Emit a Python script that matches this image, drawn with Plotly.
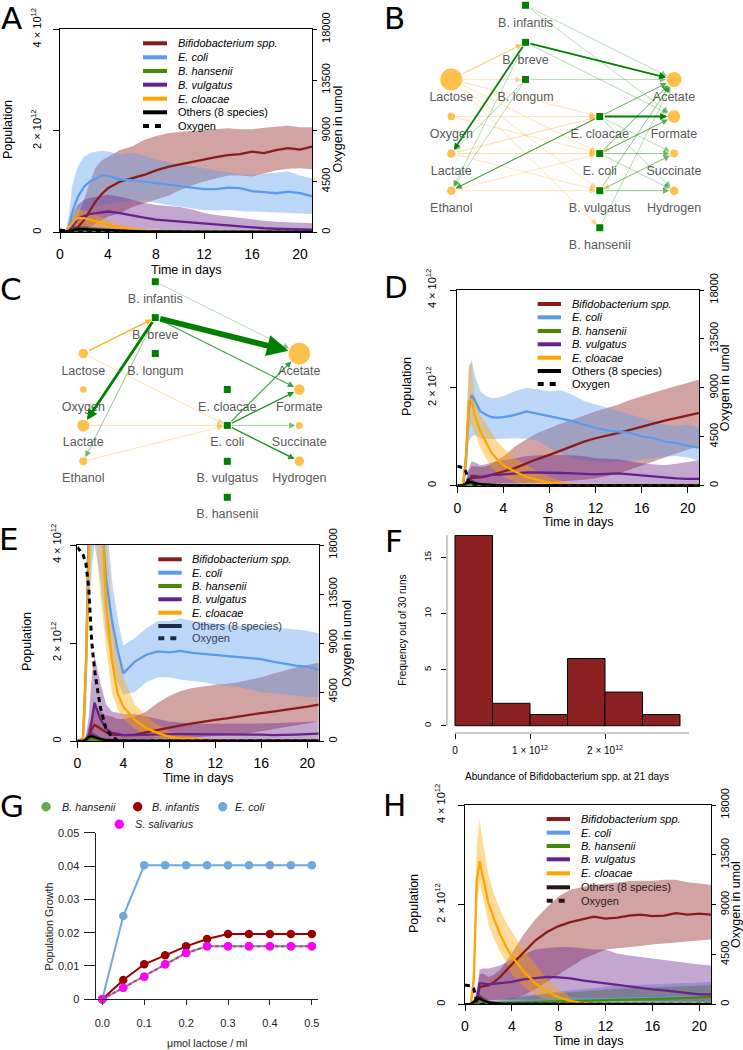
import plotly.graph_objects as go

W, H = 743, 1050
UNIT = 1e12          # population values below are given in units of 10^12
FONT = "Liberation Sans, Arial, sans-serif"

# ---------------------------------------------------------------- time axis
T = [0, 0.5, 0.75, 1, 1.25, 1.5, 2, 2.5, 3, 3.5, 4, 5, 6, 7, 8, 9, 10, 11, 12, 13, 14, 15, 16, 17, 18, 19, 20, 21]

SPECIES = ["Bifidobacterium spp.", "E. coli", "B. hansenii", "B. vulgatus", "E. cloacae", "Others (8 species)"]

# ---------------------------------------------------------------- panel A
A_bif = [0, 0, 0.01, 0.03, 0.06, 0.1, 0.24, 0.42, 0.62, 0.76, 0.87, 1.0, 1.06, 1.13, 1.22, 1.29, 1.34, 1.39, 1.44, 1.48, 1.52, 1.54, 1.59, 1.56, 1.62, 1.66, 1.63, 1.69]
A_bif_lo = [0, 0, 0, 0, 0.01, 0.02, 0.05, 0.1, 0.18, 0.25, 0.31, 0.37, 0.5, 0.57, 0.64, 0.72, 0.83, 0.92, 1.0, 1.06, 1.12, 1.12, 1.1, 1.16, 1.22, 1.25, 1.26, 1.24]
A_bif_hi = [0, 0, 0.03, 0.08, 0.15, 0.3, 0.64, 1.0, 1.29, 1.42, 1.49, 1.62, 1.69, 1.82, 1.9, 1.95, 1.98, 2.0, 2.02, 2.04, 2.05, 2.03, 2.03, 2.06, 2.08, 2.1, 2.07, 2.07]
A_eco = [0, 0.02, 0.12, 0.37, 0.55, 0.7, 0.9, 1.0, 1.06, 1.12, 1.11, 1.04, 1.03, 1.0, 0.97, 0.94, 0.91, 0.88, 0.85, 0.85, 0.88, 0.87, 0.81, 0.79, 0.77, 0.8, 0.77, 0.71]
A_eco_lo = [0, 0, 0.02, 0.05, 0.12, 0.18, 0.3, 0.42, 0.5, 0.55, 0.57, 0.6, 0.63, 0.62, 0.58, 0.54, 0.5, 0.47, 0.44, 0.43, 0.44, 0.42, 0.41, 0.39, 0.38, 0.37, 0.37, 0.36]
A_eco_hi = [0, 0.05, 0.35, 0.9, 1.12, 1.3, 1.49, 1.56, 1.59, 1.6, 1.59, 1.53, 1.57, 1.5, 1.44, 1.38, 1.33, 1.3, 1.26, 1.21, 1.17, 1.14, 1.13, 1.15, 1.18, 1.2, 1.12, 1.06]
A_han = [0, 0, 0.005, 0.01, 0.015, 0.02, 0.02, 0.02, 0.02, 0.02, 0.02, 0.015, 0.015, 0.01, 0.01, 0.01, 0.01, 0.01, 0.01, 0.01, 0.01, 0.01, 0.01, 0.01, 0.01, 0.01, 0.01, 0.01]
A_han_lo = [0, 0, 0, 0, 0, 0, 0, 0, 0, 0, 0, 0, 0, 0, 0, 0, 0, 0, 0, 0, 0, 0, 0, 0, 0, 0, 0, 0]
A_han_hi = [0, 0, 0.01, 0.03, 0.04, 0.05, 0.05, 0.05, 0.05, 0.05, 0.05, 0.04, 0.04, 0.03, 0.03, 0.03, 0.03, 0.03, 0.03, 0.03, 0.03, 0.03, 0.03, 0.03, 0.03, 0.03, 0.03, 0.03]
A_vul = [0, 0, 0.03, 0.11, 0.2, 0.27, 0.32, 0.36, 0.38, 0.4, 0.41, 0.38, 0.33, 0.29, 0.25, 0.23, 0.21, 0.19, 0.17, 0.15, 0.13, 0.11, 0.09, 0.08, 0.07, 0.06, 0.05, 0.05]
A_vul_lo = [0, 0, 0, 0.01, 0.03, 0.05, 0.08, 0.1, 0.1, 0.1, 0.1, 0.09, 0.07, 0.06, 0.05, 0.04, 0.03, 0.03, 0.02, 0.02, 0.02, 0.01, 0.01, 0.01, 0.01, 0.01, 0.01, 0.01]
A_vul_hi = [0, 0.01, 0.1, 0.3, 0.45, 0.55, 0.64, 0.68, 0.7, 0.72, 0.74, 0.7, 0.64, 0.58, 0.54, 0.52, 0.5, 0.45, 0.38, 0.34, 0.31, 0.28, 0.25, 0.23, 0.21, 0.2, 0.19, 0.18]
A_clo = [0, 0.02, 0.1, 0.18, 0.24, 0.28, 0.28, 0.25, 0.21, 0.18, 0.14, 0.09, 0.05, 0.03, 0.01, 0.01, 0, 0, 0, 0, 0, 0, 0, 0, 0, 0, 0, 0]
A_clo_lo = [0, 0, 0.03, 0.06, 0.09, 0.11, 0.12, 0.1, 0.08, 0.06, 0.04, 0.02, 0.01, 0, 0, 0, 0, 0, 0, 0, 0, 0, 0, 0, 0, 0, 0, 0]
A_clo_hi = [0, 0.05, 0.2, 0.37, 0.43, 0.47, 0.44, 0.39, 0.34, 0.29, 0.24, 0.16, 0.11, 0.07, 0.04, 0.02, 0.01, 0, 0, 0, 0, 0, 0, 0, 0, 0, 0, 0]
A_oth = [0, 0.02, 0.04, 0.05, 0.06, 0.06, 0.06, 0.055, 0.05, 0.045, 0.04, 0.035, 0.03, 0.02, 0.02, 0.015, 0.01, 0.01, 0.01, 0.01, 0.01, 0.01, 0.01, 0.01, 0.01, 0.01, 0.01, 0.01]
A_oth_lo = [0, 0, 0, 0, 0, 0, 0, 0, 0, 0, 0, 0, 0, 0, 0, 0, 0, 0, 0, 0, 0, 0, 0, 0, 0, 0, 0, 0]
A_oth_hi = [0, 0.04, 0.08, 0.1, 0.12, 0.12, 0.12, 0.11, 0.1, 0.09, 0.08, 0.07, 0.06, 0.05, 0.04, 0.03, 0.03, 0.02, 0.02, 0.02, 0.02, 0.02, 0.02, 0.02, 0.02, 0.02, 0.02, 0.02]
A_oxy = [200, 120, 60, 20, 0, 0, 0, 0, 0, 0, 0, 0, 0, 0, 0, 0, 0, 0, 0, 0, 0, 0, 0, 0, 0, 0, 0, 0]

# ---------------------------------------------------------------- panel D
D_bif = [0, 0, 0.02, 0.12, 0.16, 0.16, 0.17, 0.19, 0.22, 0.25, 0.29, 0.36, 0.46, 0.55, 0.63, 0.72, 0.82, 0.9, 0.97, 1.02, 1.08, 1.14, 1.21, 1.27, 1.33, 1.38, 1.44, 1.49]
D_bif_lo = [0, 0, 0, 0.02, 0.03, 0.03, 0.03, 0.03, 0.03, 0.03, 0.03, 0.04, 0.05, 0.06, 0.07, 0.08, 0.1, 0.12, 0.15, 0.2, 0.25, 0.33, 0.42, 0.5, 0.58, 0.66, 0.74, 0.8]
D_bif_hi = [0, 0, 0.05, 0.3, 0.4, 0.4, 0.38, 0.4, 0.45, 0.52, 0.6, 0.8, 0.95, 1.08, 1.18, 1.27, 1.35, 1.44, 1.52, 1.59, 1.66, 1.75, 1.83, 1.9, 1.97, 2.04, 2.1, 2.17]
D_eco = [0, 0.02, 0.5, 1.59, 1.85, 1.75, 1.52, 1.45, 1.4, 1.39, 1.4, 1.45, 1.52, 1.47, 1.42, 1.38, 1.32, 1.25, 1.18, 1.13, 1.1, 1.08, 1.01, 0.97, 0.9, 0.87, 0.82, 0.78]
D_eco_lo = [0, 0, 0.2, 0.9, 1.0, 1.04, 0.97, 0.95, 0.94, 0.95, 0.96, 0.97, 0.96, 0.92, 0.77, 0.66, 0.56, 0.52, 0.49, 0.48, 0.49, 0.5, 0.53, 0.57, 0.6, 0.6, 0.58, 0.5]
D_eco_hi = [0, 0.05, 0.9, 2.41, 2.58, 2.27, 1.93, 1.83, 1.79, 1.8, 1.83, 1.93, 2.0, 1.97, 1.93, 1.95, 1.86, 1.73, 1.66, 1.59, 1.52, 1.45, 1.38, 1.32, 1.25, 1.22, 1.25, 1.18]
D_han = [0, 0, 0.01, 0.03, 0.03, 0.02, 0.01, 0.01, 0.01, 0.01, 0.01, 0.01, 0.01, 0.01, 0.01, 0.01, 0.01, 0.01, 0.01, 0.01, 0.01, 0.01, 0.01, 0.01, 0.01, 0.01, 0.01, 0.01]
D_han_lo = [0, 0, 0, 0, 0, 0, 0, 0, 0, 0, 0, 0, 0, 0, 0, 0, 0, 0, 0, 0, 0, 0, 0, 0, 0, 0, 0, 0]
D_han_hi = [0, 0, 0.02, 0.06, 0.06, 0.05, 0.03, 0.03, 0.03, 0.03, 0.03, 0.03, 0.03, 0.03, 0.03, 0.03, 0.03, 0.03, 0.03, 0.03, 0.03, 0.03, 0.03, 0.03, 0.03, 0.03, 0.03, 0.03]
D_vul = [0, 0, 0.02, 0.1, 0.2, 0.2, 0.18, 0.2, 0.22, 0.22, 0.23, 0.25, 0.27, 0.27, 0.27, 0.26, 0.25, 0.24, 0.23, 0.24, 0.25, 0.23, 0.21, 0.19, 0.16, 0.15, 0.14, 0.14]
D_vul_lo = [0, 0, 0, 0.01, 0.03, 0.03, 0.03, 0.03, 0.04, 0.04, 0.04, 0.04, 0.05, 0.05, 0.05, 0.05, 0.04, 0.04, 0.04, 0.04, 0.04, 0.04, 0.03, 0.03, 0.03, 0.03, 0.03, 0.03]
D_vul_hi = [0, 0, 0.1, 0.35, 0.5, 0.48, 0.42, 0.44, 0.48, 0.5, 0.53, 0.57, 0.6, 0.62, 0.63, 0.63, 0.62, 0.6, 0.56, 0.55, 0.54, 0.5, 0.46, 0.44, 0.42, 0.45, 0.49, 0.52]
D_clo = [0, 0.01, 0.6, 1.73, 1.76, 1.45, 1.11, 0.87, 0.66, 0.53, 0.42, 0.29, 0.18, 0.12, 0.06, 0.03, 0.01, 0.01, 0, 0, 0, 0, 0, 0, 0, 0, 0, 0]
D_clo_lo = [0, 0, 0.3, 1.18, 1.25, 1.11, 0.77, 0.55, 0.36, 0.25, 0.18, 0.08, 0.03, 0.01, 0, 0, 0, 0, 0, 0, 0, 0, 0, 0, 0, 0, 0, 0]
D_clo_hi = [0, 0.03, 1.0, 2.48, 2.5, 1.86, 1.45, 1.25, 1.08, 0.9, 0.77, 0.56, 0.42, 0.29, 0.18, 0.1, 0.05, 0.02, 0, 0, 0, 0, 0, 0, 0, 0, 0, 0]
D_oth = [0, 0.01, 0.05, 0.08, 0.07, 0.05, 0.03, 0.02, 0.015, 0.01, 0.01, 0.01, 0.01, 0.005, 0.005, 0.005, 0.005, 0.005, 0.005, 0.005, 0.005, 0.005, 0.005, 0.005, 0.005, 0.005, 0.005, 0.005]
D_oth_lo = [0, 0, 0, 0, 0, 0, 0, 0, 0, 0, 0, 0, 0, 0, 0, 0, 0, 0, 0, 0, 0, 0, 0, 0, 0, 0, 0, 0]
D_oth_hi = [0, 0.02, 0.1, 0.15, 0.13, 0.1, 0.06, 0.04, 0.03, 0.02, 0.02, 0.02, 0.02, 0.02, 0.02, 0.02, 0.02, 0.02, 0.02, 0.02, 0.02, 0.02, 0.02, 0.02, 0.02, 0.02, 0.02, 0.02]
D_oxy = [1800, 1650, 1300, 300, 0, 0, 0, 0, 0, 0, 0, 0, 0, 0, 0, 0, 0, 0, 0, 0, 0, 0, 0, 0, 0, 0, 0, 0]

# ---------------------------------------------------------------- panel E
E_bif = [0, 0.01, 0.03, 0.1, 0.25, 0.33, 0.25, 0.18, 0.13, 0.12, 0.12, 0.13, 0.18, 0.23, 0.27, 0.32, 0.36, 0.4, 0.43, 0.46, 0.5, 0.53, 0.57, 0.6, 0.63, 0.66, 0.7, 0.74]
E_bif_lo = [0, 0, 0, 0.01, 0.03, 0.05, 0.04, 0.03, 0.02, 0.02, 0.02, 0.02, 0.03, 0.04, 0.05, 0.06, 0.07, 0.08, 0.1, 0.12, 0.14, 0.16, 0.2, 0.24, 0.28, 0.32, 0.36, 0.4]
E_bif_hi = [0, 0.02, 0.1, 0.3, 0.55, 0.7, 0.6, 0.52, 0.5, 0.45, 0.45, 0.5, 0.6, 0.78, 0.92, 1.02, 1.08, 1.12, 1.15, 1.17, 1.2, 1.25, 1.3, 1.37, 1.44, 1.5, 1.55, 1.6]
E_eco = [0, 0.05, 1.5, 4.5, 5.8, 6.0, 4.9, 3.3, 2.48, 1.86, 1.38, 1.62, 1.76, 1.83, 1.81, 1.84, 1.8, 1.78, 1.76, 1.73, 1.72, 1.69, 1.67, 1.62, 1.58, 1.54, 1.52, 1.45]
E_eco_lo = [0, 0, 0.5, 2.5, 3.5, 4.0, 3.3, 2.2, 1.6, 1.2, 0.95, 1.0, 1.2, 1.3, 1.3, 1.25, 1.22, 1.2, 1.15, 1.12, 1.1, 1.05, 1.0, 0.98, 0.95, 0.92, 0.9, 0.9]
E_eco_hi = [0, 0.1, 2.5, 6.0, 7.5, 8.0, 6.5, 4.6, 3.3, 2.5, 1.95, 2.1, 2.3, 2.45, 2.45, 2.5, 2.45, 2.42, 2.4, 2.38, 2.35, 2.35, 2.35, 2.32, 2.3, 2.28, 2.25, 2.2]
E_han = [0, 0, 0.01, 0.04, 0.05, 0.05, 0.03, 0.02, 0.01, 0.01, 0.01, 0.005, 0.005, 0.005, 0.005, 0.005, 0.005, 0.005, 0.005, 0.005, 0.005, 0.005, 0.005, 0.005, 0.005, 0.005, 0.005, 0.005]
E_han_lo = [0, 0, 0, 0, 0, 0, 0, 0, 0, 0, 0, 0, 0, 0, 0, 0, 0, 0, 0, 0, 0, 0, 0, 0, 0, 0, 0, 0]
E_han_hi = [0, 0, 0.02, 0.07, 0.09, 0.09, 0.06, 0.04, 0.03, 0.02, 0.02, 0.02, 0.02, 0.02, 0.02, 0.02, 0.02, 0.02, 0.02, 0.02, 0.02, 0.02, 0.02, 0.02, 0.02, 0.02, 0.02, 0.02]
E_vul = [0, 0, 0.02, 0.1, 0.4, 0.78, 0.45, 0.25, 0.17, 0.14, 0.12, 0.12, 0.13, 0.13, 0.14, 0.14, 0.14, 0.14, 0.14, 0.14, 0.13, 0.13, 0.13, 0.12, 0.12, 0.13, 0.14, 0.15]
E_vul_lo = [0, 0, 0, 0.02, 0.05, 0.1, 0.06, 0.04, 0.03, 0.03, 0.02, 0.02, 0.02, 0.02, 0.02, 0.02, 0.02, 0.02, 0.02, 0.02, 0.02, 0.02, 0.02, 0.02, 0.02, 0.02, 0.02, 0.02]
E_vul_hi = [0, 0, 0.1, 0.5, 1.3, 1.75, 1.2, 0.75, 0.6, 0.57, 0.55, 0.55, 0.5, 0.45, 0.4, 0.38, 0.35, 0.35, 0.35, 0.35, 0.35, 0.35, 0.35, 0.36, 0.37, 0.38, 0.39, 0.4]
E_clo = [0, 0.05, 1.5, 3.5, 6.0, 7.0, 5.2, 2.82, 1.66, 0.98, 0.7, 0.43, 0.26, 0.16, 0.09, 0.05, 0.03, 0.02, 0.01, 0, 0, 0, 0, 0, 0, 0, 0, 0]
E_clo_lo = [0, 0.02, 1.0, 2.5, 4.0, 4.5, 3.0, 1.9, 1.0, 0.65, 0.45, 0.25, 0.13, 0.07, 0.04, 0.02, 0.01, 0, 0, 0, 0, 0, 0, 0, 0, 0, 0, 0]
E_clo_hi = [0, 0.1, 2.5, 4.5, 7.5, 8.5, 6.0, 4.2, 2.6, 1.7, 1.3, 0.75, 0.5, 0.33, 0.2, 0.12, 0.08, 0.05, 0.03, 0.02, 0.01, 0, 0, 0, 0, 0, 0, 0]
E_oth = [0, 0, 0.03, 0.08, 0.1, 0.08, 0.04, 0.02, 0.01, 0.005, 0.005, 0.005, 0.005, 0.005, 0.005, 0.005, 0.005, 0.005, 0.005, 0.005, 0.005, 0.005, 0.005, 0.005, 0.005, 0.005, 0.005, 0.005]
E_oth_lo = [0, 0, 0, 0, 0, 0, 0, 0, 0, 0, 0, 0, 0, 0, 0, 0, 0, 0, 0, 0, 0, 0, 0, 0, 0, 0, 0, 0]
E_oth_hi = [0, 0, 0.06, 0.15, 0.18, 0.15, 0.08, 0.04, 0.02, 0.01, 0.01, 0.01, 0.01, 0.01, 0.01, 0.01, 0.01, 0.01, 0.01, 0.01, 0.01, 0.01, 0.01, 0.01, 0.01, 0.01, 0.01, 0.01]
E_oxy = [17800, 17100, 16300, 14000, 9200, 6500, 3100, 1100, 400, 50, 0, 0, 0, 0, 0, 0, 0, 0, 0, 0, 0, 0, 0, 0, 0, 0, 0, 0]

# ---------------------------------------------------------------- panel H
H_bif = [0, 0, 0.01, 0.05, 0.35, 0.36, 0.38, 0.45, 0.55, 0.68, 0.8, 1.05, 1.28, 1.45, 1.57, 1.65, 1.7, 1.76, 1.72, 1.74, 1.78, 1.8, 1.77, 1.78, 1.83, 1.8, 1.82, 1.8]
H_bif_lo = [0, 0, 0, 0.01, 0.05, 0.06, 0.07, 0.08, 0.09, 0.1, 0.1, 0.18, 0.3, 0.45, 0.6, 0.75, 0.9, 1.0, 1.1, 1.12, 1.15, 1.17, 1.2, 1.22, 1.25, 1.27, 1.28, 1.3]
H_bif_hi = [0, 0, 0.03, 0.15, 0.6, 0.62, 0.55, 0.6, 0.7, 0.85, 1.03, 1.4, 1.7, 1.95, 2.17, 2.3, 2.35, 2.4, 2.42, 2.45, 2.47, 2.48, 2.48, 2.5, 2.5, 2.45, 2.42, 2.4]
H_eco = [0, 0, 0, 0.01, 0.01, 0.01, 0.02, 0.03, 0.04, 0.04, 0.05, 0.06, 0.07, 0.08, 0.08, 0.09, 0.1, 0.1, 0.1, 0.11, 0.12, 0.12, 0.13, 0.13, 0.14, 0.14, 0.15, 0.15]
H_eco_lo = [0, 0, 0, 0, 0, 0, 0, 0, 0, 0, 0, 0, 0, 0, 0, 0, 0, 0, 0, 0, 0, 0, 0, 0, 0, 0, 0, 0]
H_eco_hi = [0, 0, 0, 0.02, 0.03, 0.04, 0.06, 0.08, 0.1, 0.12, 0.15, 0.18, 0.2, 0.23, 0.25, 0.28, 0.3, 0.33, 0.35, 0.37, 0.38, 0.4, 0.4, 0.42, 0.43, 0.44, 0.45, 0.45]
H_han = [0, 0, 0, 0.005, 0.01, 0.01, 0.015, 0.02, 0.025, 0.03, 0.035, 0.04, 0.05, 0.055, 0.06, 0.065, 0.07, 0.075, 0.08, 0.085, 0.09, 0.095, 0.1, 0.11, 0.12, 0.13, 0.14, 0.15]
H_han_lo = [0, 0, 0, 0, 0, 0, 0, 0, 0, 0, 0, 0, 0, 0, 0, 0, 0, 0, 0, 0, 0, 0, 0, 0, 0, 0, 0, 0]
H_han_hi = [0, 0, 0, 0.01, 0.02, 0.03, 0.04, 0.06, 0.08, 0.1, 0.12, 0.15, 0.18, 0.2, 0.22, 0.24, 0.26, 0.28, 0.3, 0.31, 0.32, 0.33, 0.34, 0.35, 0.36, 0.37, 0.38, 0.38]
H_vul = [0, 0, 0.02, 0.1, 0.42, 0.42, 0.4, 0.41, 0.42, 0.43, 0.45, 0.5, 0.53, 0.55, 0.54, 0.52, 0.48, 0.45, 0.42, 0.38, 0.35, 0.32, 0.3, 0.28, 0.25, 0.23, 0.2, 0.2]
H_vul_lo = [0, 0, 0, 0.02, 0.08, 0.08, 0.08, 0.08, 0.09, 0.09, 0.1, 0.1, 0.1, 0.1, 0.1, 0.1, 0.09, 0.09, 0.08, 0.08, 0.07, 0.07, 0.06, 0.06, 0.05, 0.05, 0.05, 0.05]
H_vul_hi = [0, 0, 0.05, 0.3, 0.7, 0.72, 0.72, 0.75, 0.78, 0.84, 0.9, 1.0, 1.1, 1.13, 1.15, 1.15, 1.12, 1.1, 1.1, 1.02, 0.98, 0.95, 0.92, 0.88, 0.85, 0.82, 0.8, 0.78]
H_clo = [0, 0.01, 0.5, 2.5, 2.87, 2.57, 2.03, 1.7, 1.4, 1.16, 0.96, 0.66, 0.42, 0.26, 0.14, 0.07, 0.03, 0.01, 0, 0, 0, 0, 0, 0, 0, 0, 0, 0]
H_clo_lo = [0, 0, 0.2, 2.0, 2.4, 2.2, 1.6, 1.3, 1.05, 0.85, 0.6, 0.35, 0.18, 0.08, 0.03, 0.01, 0, 0, 0, 0, 0, 0, 0, 0, 0, 0, 0, 0]
H_clo_hi = [0, 0.03, 0.9, 3.2, 3.71, 3.3, 2.6, 2.2, 1.9, 1.65, 1.45, 1.1, 0.8, 0.5, 0.3, 0.15, 0.08, 0.03, 0.01, 0, 0, 0, 0, 0, 0, 0, 0, 0]
H_oth = [0, 0.01, 0.05, 0.1, 0.12, 0.08, 0.04, 0.02, 0.015, 0.01, 0.01, 0.005, 0.005, 0.005, 0.005, 0.005, 0.005, 0.005, 0.005, 0.005, 0.005, 0.005, 0.005, 0.005, 0.005, 0.005, 0.005, 0.005]
H_oth_lo = [0, 0, 0, 0, 0, 0, 0, 0, 0, 0, 0, 0, 0, 0, 0, 0, 0, 0, 0, 0, 0, 0, 0, 0, 0, 0, 0, 0]
H_oth_hi = [0, 0.02, 0.1, 0.17, 0.2, 0.15, 0.08, 0.05, 0.03, 0.02, 0.02, 0.015, 0.015, 0.015, 0.015, 0.015, 0.015, 0.015, 0.015, 0.015, 0.015, 0.015, 0.015, 0.015, 0.015, 0.015, 0.015, 0.015]
H_oxy = [1750, 1650, 1400, 300, 0, 0, 0, 0, 0, 0, 0, 0, 0, 0, 0, 0, 0, 0, 0, 0, 0, 0, 0, 0, 0, 0, 0, 0]

# ---------------------------------------------------------------- panel F (histogram)
F_BIN_EDGES = [0, 0.5, 1.0, 1.5, 2.0, 2.5, 3.0]     # x 10^12
F_COUNTS = [17, 2, 1, 6, 3, 1]

# ---------------------------------------------------------------- panel G
G_LACTOSE = [0.0, 0.05, 0.1, 0.15, 0.2, 0.25, 0.3, 0.35, 0.4, 0.45, 0.5]
G_HANSENII = [0, 0.0035, 0.0068, 0.0105, 0.0139, 0.0159, 0.0159, 0.0159, 0.0159, 0.0159, 0.0159]
G_INFANTIS = [0, 0.0058, 0.0105, 0.0132, 0.0159, 0.0181, 0.0196, 0.0196, 0.0196, 0.0196, 0.0196]
G_ECOLI = [0, 0.025, 0.0402, 0.0402, 0.0402, 0.0402, 0.0402, 0.0402, 0.0402, 0.0402, 0.0402]
G_SALIVARIUS = [0, 0.0035, 0.0068, 0.0105, 0.0139, 0.0159, 0.0159, 0.0159, 0.0159, 0.0159, 0.0159]

# ---------------------------------------------------------------- networks B and C
METABOLITES = ["Lactose", "Oxygen", "Lactate", "Ethanol", "Acetate", "Formate", "Succinate", "Hydrogen"]
MICROBES = ["B. infantis", "B. breve", "B. longum", "E. cloacae", "E. coli", "B. vulgatus", "B. hansenii"]
B_EDGES = [
    ("Lactose", "B. breve", 1.0), ("Lactose", "B. longum", 0.6), ("Lactose", "E. cloacae", 0.6),
    ("Lactose", "E. coli", 0.5), ("Lactose", "B. vulgatus", 0.5), ("Lactose", "B. hansenii", 0.5),
    ("Oxygen", "E. cloacae", 0.5), ("Oxygen", "E. coli", 0.5), ("Lactate", "E. cloacae", 0.7),
    ("Lactate", "E. coli", 0.7), ("Lactate", "B. vulgatus", 0.5), ("Ethanol", "E. coli", 0.5),
    ("Ethanol", "B. vulgatus", 0.5), ("Formate", "E. coli", 0.5), ("Succinate", "B. vulgatus", 0.5),
    ("B. breve", "Acetate", 2.0), ("B. breve", "Lactate", 1.8), ("B. breve", "Formate", 0.5),
    ("B. breve", "Ethanol", 0.5), ("B. infantis", "Acetate", 0.5), ("B. infantis", "Formate", 0.4),
    ("B. longum", "Acetate", 0.6), ("B. longum", "Lactate", 0.6), ("B. longum", "Ethanol", 0.6),
    ("E. cloacae", "Acetate", 1.0), ("E. cloacae", "Formate", 2.0), ("E. cloacae", "Ethanol", 1.2),
    ("E. cloacae", "Succinate", 0.5), ("E. cloacae", "Hydrogen", 0.6), ("E. coli", "Acetate", 1.0),
    ("E. coli", "Formate", 1.0), ("E. coli", "Succinate", 0.8), ("E. coli", "Hydrogen", 0.6),
    ("B. vulgatus", "Acetate", 0.8), ("B. vulgatus", "Succinate", 0.8), ("B. vulgatus", "Hydrogen", 0.8),
    ("B. hansenii", "Acetate", 0.6),
]
C_EDGES = [
    ("B. infantis", "Acetate", 0.6), ("B. breve", "Acetate", 6.0), ("B. breve", "Lactate", 3.0),
    ("B. breve", "Formate", 1.2), ("B. breve", "Ethanol", 0.8), ("Lactose", "B. breve", 1.5),
    ("Lactose", "E. coli", 0.6), ("Lactate", "E. coli", 0.7), ("Ethanol", "E. coli", 0.6),
    ("E. coli", "Acetate", 1.3), ("E. coli", "Formate", 1.5), ("E. coli", "Succinate", 0.7),
    ("E. coli", "Hydrogen", 1.5),
]

# ================================================================ styling / layout (not data)
COLORS = ["#8B1A1A", "#5B9BEE", "#458B00", "#68228B", "#FFA500", "#000000"]
GRID = {  # (column, row) of each node in the network layout
    "Lactose": (0, 2), "Oxygen": (0, 3), "Lactate": (0, 4), "Ethanol": (0, 5),
    "B. infantis": (1, 0), "B. breve": (1, 1), "B. longum": (1, 2),
    "E. cloacae": (2, 3), "E. coli": (2, 4), "B. vulgatus": (2, 5), "B. hansenii": (2, 6),
    "Acetate": (3, 2), "Formate": (3, 3), "Succinate": (3, 4), "Hydrogen": (3, 5),
}
B_SIZES = {"Lactose": 22, "Oxygen": 7.5, "Lactate": 8.5, "Ethanol": 8.5, "Acetate": 15, "Formate": 12.5,
           "Succinate": 8, "Hydrogen": 8.5}
C_SIZES = {"Lactose": 9.5, "Oxygen": 6.5, "Lactate": 12, "Ethanol": 8, "Acetate": 21.5, "Formate": 10.5,
           "Succinate": 7, "Hydrogen": 9.5}
SQ = 7

fig = go.Figure()
LAY = {}
ANN = []
SHP = []


def akey(n):
    return n[0] + "axis" + n[1:]


def xd(a, b):
    return [a / W, b / W]


def yd(top, bot):
    return [1 - bot / H, 1 - top / H]


def rgba(h, a):
    h = h.lstrip("#")
    return "rgba(%d,%d,%d,%s)" % (int(h[0:2], 16), int(h[2:4], 16), int(h[4:6], 16), a)


def text(xp, yp, s, size, angle=0, anchor="center", color="black", family=FONT):
    ANN.append(dict(x=xp / W, y=1 - yp / H, xref="paper", yref="paper", text=s, showarrow=False,
                    textangle=angle, xanchor=anchor, yanchor="middle",
                    font=dict(size=size, color=color, family=family)))


def pline(x0, y0, x1, y1, color, width, dash="solid"):
    SHP.append(dict(type="line", xref="paper", yref="paper", x0=x0 / W, x1=x1 / W,
                    y0=1 - y0 / H, y1=1 - y1 / H, line=dict(color=color, width=width, dash=dash)))


def sc(v):
    return [x * UNIT for x in v]


def ts_panel(xn, yn, y2n, box, series, oxy, leg, pop, oxt, tim, ystand, tint=("black", "black")):
    left, right, top, bottom = box
    for (m, lo, hi), col in zip(series, COLORS):
        fig.add_trace(go.Scatter(x=T + T[::-1], y=sc(hi) + sc(lo[::-1]), mode="lines", fill="toself",
                                 fillcolor=rgba(col, 0.4), line=dict(width=0), hoverinfo="skip",
                                 showlegend=False, xaxis=xn, yaxis=yn))
    for (m, lo, hi), col in zip(series, COLORS):
        fig.add_trace(go.Scatter(x=T, y=sc(m), mode="lines", line=dict(color=col, width=2.3),
                                 showlegend=False, hoverinfo="skip", xaxis=xn, yaxis=yn))
    fig.add_trace(go.Scatter(x=T, y=oxy, mode="lines", line=dict(color="black", width=3, dash="5px,4px"),
                             showlegend=False, hoverinfo="skip", xaxis=xn, yaxis=y2n))
    common = dict(showgrid=False, zeroline=False, ticks="outside", tickcolor="black", tickwidth=1,
                  automargin=False)
    LAY[akey(xn)] = dict(domain=xd(left, right), range=[0, 21], anchor=yn, showline=True, mirror=True,
                         linecolor="black", linewidth=1, ticklen=6, tickvals=[0, 4, 8, 12, 16, 20],
                         ticktext=["0", "4", "8", "12", "16", "20"],
                         tickfont=dict(size=14, color="black", family=FONT), ticklabelstandoff=3, **common)
    LAY[akey(yn)] = dict(domain=yd(top, bottom), range=[0, 4 * UNIT], anchor=xn, showline=True, mirror=True,
                         linecolor="black", linewidth=1, ticklen=6, tickvals=[0, 2 * UNIT, 4 * UNIT],
                         ticktext=["0", "2 \u00d7 10<sup>12</sup>", "4 \u00d7 10<sup>12</sup>"], tickangle=-90,
                         tickfont=dict(size=11, color="black", family=FONT), ticklabelstandoff=ystand, **common)
    LAY[akey(y2n)] = dict(overlaying=yn, side="right", anchor=xn, range=[0, 18000], ticklen=4,
                          tickvals=[0, 4500, 9000, 13500, 18000],
                          ticktext=["0", "4500", "9000", "13500", "18000"], tickangle=-90, showline=False,
                          tickfont=dict(size=11, color="black", family=FONT), **common)
    text(pop[0], pop[1], "Population", 12.5, -90)
    text(oxt[0], oxt[1], "Oxygen in umol", 12.5, -90)
    text(tim[0], tim[1], "Time in days", 12.5)
    lx0, lx1, tx, rows = leg
    labels = ["<i>Bifidobacterium spp.</i>", "<i>E. coli</i>", "<i>B. hansenii</i>", "<i>B. vulgatus</i>",
              "<i>E. cloacae</i>", "Others (8 species)", "Oxygen"]
    for i, (lab, yy) in enumerate(zip(labels, rows)):
        if i < 6:
            pline(lx0, yy, lx1, yy, COLORS[i] if i < 5 else tint[1], 4)
        else:
            pline(lx0, yy, lx1, yy, tint[1], 4, "6px,6px")
        text(tx, yy, lab, 11, anchor="left", color=tint[0] if i >= 5 else "black")


def net_panel(xn, yn, xpx, ypx, sizes, edges):
    LAY[akey(xn)] = dict(domain=xd(xpx[0], xpx[1]), range=[-0.5, 3.5], visible=False, anchor=yn,
                         automargin=False)
    r0, p0, r1, p1 = ypx
    LAY[akey(yn)] = dict(domain=yd(p0, p1), range=[r1, r0], visible=False, anchor=xn, automargin=False)

    def rad(n):
        return sizes.get(n, SQ) / 2.0

    for s, t, w in edges:
        produce = s in MICROBES
        base = "#008000" if produce else "#FFA500"
        alpha = min(1.0, 0.25 + 0.4 * w)
        width = max(0.6, 0.95 * w)
        ANN.append(dict(x=GRID[t][0], y=GRID[t][1], ax=GRID[s][0], ay=GRID[s][1], xref=xn, yref=yn,
                        axref=xn, ayref=yn, text="", showarrow=True, arrowhead=2,
                        arrowsize=min(2.0, max(0.75, 1.25 / width)), arrowwidth=width,
                        arrowcolor=rgba(base, alpha), standoff=rad(t) + 0.5, startstandoff=rad(s)))
    fig.add_trace(go.Scatter(x=[GRID[n][0] for n in METABOLITES], y=[GRID[n][1] for n in METABOLITES],
                             mode="markers",
                             marker=dict(color="#FFA500", size=[sizes[n] for n in METABOLITES], line=dict(width=0)),
                             xaxis=xn, yaxis=yn, showlegend=False, hoverinfo="skip", cliponaxis=False))
    fig.add_trace(go.Scatter(x=[GRID[n][0] for n in MICROBES], y=[GRID[n][1] for n in MICROBES], mode="markers",
                             marker=dict(color="#008000", size=SQ, symbol="square", line=dict(width=0)),
                             xaxis=xn, yaxis=yn, showlegend=False, hoverinfo="skip", cliponaxis=False))
    names = METABOLITES + MICROBES
    fig.add_trace(go.Scatter(x=[GRID[n][0] for n in names], y=[GRID[n][1] + 0.5 for n in names], mode="text",
                             text=names, textfont=dict(size=12.5, color="#595959", family=FONT),
                             xaxis=xn, yaxis=yn, showlegend=False, hoverinfo="skip", cliponaxis=False))


# ---------------- A
ts_panel("x", "y", "y2", (60, 312, 29.3, 232.3),
         [(A_bif, A_bif_lo, A_bif_hi), (A_eco, A_eco_lo, A_eco_hi), (A_han, A_han_lo, A_han_hi),
          (A_vul, A_vul_lo, A_vul_hi), (A_clo, A_clo_lo, A_clo_hi), (A_oth, A_oth_lo, A_oth_hi)], A_oxy,
         (143, 167, 176, [43.3, 57.3, 71, 84.7, 98.7, 112.3, 126]), (8, 130), (337.5, 129), (186, 270), 8)
# ---------------- B (network)
net_panel("x2", "y3", (414.2, 711.1), (-0.1, 1.6, 7.0, 264.8), B_SIZES, B_EDGES)
# ---------------- C (network)
net_panel("x3", "y4", (47.3, 335.3), (-0.5, 263.7, 7.0, 533.2), C_SIZES, C_EDGES)
# ---------------- D
ts_panel("x4", "y5", "y6", (457.3, 699.3, 290, 485.7),
         [(D_bif, D_bif_lo, D_bif_hi), (D_eco, D_eco_lo, D_eco_hi), (D_han, D_han_lo, D_han_hi),
          (D_vul, D_vul_lo, D_vul_hi), (D_clo, D_clo_lo, D_clo_hi), (D_oth, D_oth_lo, D_oth_hi)], D_oxy,
         (537.7, 561, 570, [304, 317.3, 331, 344.3, 357.7, 371, 384]), (407, 387), (725.3, 388), (578, 522), 10)
# ---------------- E
ts_panel("x5", "y7", "y8", (77.3, 318.8, 545, 741),
         [(E_bif, E_bif_lo, E_bif_hi), (E_eco, E_eco_lo, E_eco_hi), (E_han, E_han_lo, E_han_hi),
          (E_vul, E_vul_lo, E_vul_hi), (E_clo, E_clo_lo, E_clo_hi), (E_oth, E_oth_lo, E_oth_hi)], E_oxy,
         (158.3, 181.7, 190, [559.3, 572.7, 586, 599.3, 612.7, 626, 638.3]), (27, 642), (346.7, 643), (198, 778), 5,
         tint=("#33415c", "#1d2b45"))
# ---------------- H
ts_panel("x8", "y11", "y12", (465, 711, 805, 1004.3),
         [(H_bif, H_bif_lo, H_bif_hi), (H_eco, H_eco_lo, H_eco_hi), (H_han, H_han_lo, H_han_hi),
          (H_vul, H_vul_lo, H_vul_hi), (H_clo, H_clo_lo, H_clo_hi), (H_oth, H_oth_lo, H_oth_hi)], H_oxy,
         (546.7, 570, 579.3, [819, 832.7, 846, 859.3, 873.3, 887.3, 900.7]), (414, 904), (736, 905), (588, 1041), 9,
         tint=("#2a1a1a", "#2a1414"))

# ---------------- F (histogram)
mids = [(a + b) / 2 * UNIT for a, b in zip(F_BIN_EDGES[:-1], F_BIN_EDGES[1:])]
wids = [(b - a) * UNIT for a, b in zip(F_BIN_EDGES[:-1], F_BIN_EDGES[1:])]
fig.add_trace(go.Bar(x=mids, y=F_COUNTS, width=wids, marker=dict(color="#8B2121", line=dict(color="black", width=1)),
                     xaxis="x6", yaxis="y9", showlegend=False, hoverinfo="skip"))
FX0, FX1 = -0.1107 * UNIT, 3.124 * UNIT
FY0, FY1 = -0.679, 17.03
LAY["xaxis6"] = dict(domain=xd(446.7, 689.3), range=[FX0, FX1], anchor="y9", showline=False, showgrid=False,
                     zeroline=False, ticks="outside", ticklen=5, tickcolor="black", automargin=False,
                     tickvals=[0, 1 * UNIT, 2 * UNIT], ticktext=["0", "1 \u00d7 10<sup>12</sup>", "2 \u00d7 10<sup>12</sup>"],
                     tickfont=dict(size=10, color="black", family=FONT), ticklabelstandoff=3)
LAY["yaxis9"] = dict(domain=yd(535, 733.3), range=[FY0, FY1], anchor="x6", showline=False, showgrid=False,
                     zeroline=False, ticks="outside", ticklen=5, tickcolor="black", tickvals=[0, 5, 10, 15],
                     ticktext=["0", "5", "10", "15"], automargin=False,
                     tickangle=-90, tickfont=dict(size=9.5, color="black", family=FONT), ticklabelstandoff=6)
SHP.append(dict(type="line", xref="x6", yref="y9", x0=0, x1=3.12 * UNIT, y0=FY0, y1=FY0, line=dict(color="black", width=1)))
SHP.append(dict(type="line", xref="x6", yref="y9", x0=FX0, x1=FX0, y0=0, y1=17, line=dict(color="black", width=1)))
text(401.7, 630, "Frequency out of 30 runs", 10, -90)
text(566.7, 776.7, "Abundance of Bifidobacterium spp. at 21 days", 10)

# ---------------- G
G_STYLE = [("B. hansenii", G_HANSENII, "#6AA84F", "solid"), ("B. infantis", G_INFANTIS, "#9B0000", "solid"),
           ("E. coli", G_ECOLI, "#6FA8DC", "solid"), ("S. salivarius", G_SALIVARIUS, "#FF00FF", "dot")]
for name, ys, col, dash in G_STYLE:
    fig.add_trace(go.Scatter(x=G_LACTOSE, y=ys, mode="lines+markers", line=dict(color=col, width=2, dash=dash),
                             marker=dict(color=col, size=8.5), cliponaxis=False, xaxis="x7", yaxis="y10",
                             showlegend=False, hoverinfo="skip"))
LAY["xaxis7"] = dict(domain=xd(95.7, 318.3), range=[-0.0158, 0.5155], anchor="y10", showline=True,
                     linecolor="#222222", linewidth=1.3, showgrid=False, zeroline=False, ticks="outside", ticklen=5,
                     tickcolor="#222222", tickvals=G_LACTOSE[::2], automargin=False,
                     ticktext=["0.0", "0.1", "0.2", "0.3", "0.4", "0.5"],
                     tickfont=dict(size=11, color="#222222", family=FONT), ticklabelstandoff=8)
LAY["yaxis10"] = dict(domain=yd(832.7, 999.3), range=[0, 0.05], anchor="x7", showline=True, linecolor="#222222",
                      linewidth=1.3, showgrid=False, zeroline=False, ticks="outside", ticklen=11, tickcolor="#222222",
                      tickvals=[0, 0.01, 0.02, 0.03, 0.04, 0.05], ticktext=["0", "0.01", "0.02", "0.03", "0.04", "0.05"],
                      tickfont=dict(size=11, color="#222222", family=FONT), ticklabelstandoff=2, automargin=False)
text(48.5, 927, "Population Growth", 10.7, -90, color="#222222")
text(206.7, 1043, "\u03bcmol lactose / ml", 10.7, color="#222222")
for (cx, cy, tx), (name, ys, col, dash) in zip([(46, 806.7, 60), (137.7, 806.7, 150), (222.7, 806.7, 233.3),
                                                 (119.3, 824.3, 133.3)], G_STYLE):
    r = 4.7
    SHP.append(dict(type="circle", xref="paper", yref="paper", x0=(cx - r) / W, x1=(cx + r) / W,
                    y0=1 - (cy + r) / H, y1=1 - (cy - r) / H, fillcolor=col, line=dict(width=0)))
    text(tx, cy, "<i>" + name + "</i>", 10.8, anchor="left", color="#222222")

# ---------------- panel letters
for letter, (lx, ly) in zip("ABCDEFGH", [(11.5, 18), (394, 18), (11, 289), (396, 287), (9, 539),
                                         (393.5, 541), (11.5, 806), (394, 804.5)]):
    text(lx, ly, letter, 31, family="DejaVu Sans, sans-serif")

fig.update_layout(template="none", width=W, height=H, margin=dict(l=0, r=0, t=0, b=0, pad=0),
                  paper_bgcolor="white", plot_bgcolor="rgba(0,0,0,0)", showlegend=False,
                  font=dict(family=FONT, color="black"), annotations=ANN, shapes=SHP, **LAY)
fig.write_html("out.html", config={"displayModeBar": False},
               post_script="document.body.style.margin='0px';document.body.style.overflow='hidden';")
